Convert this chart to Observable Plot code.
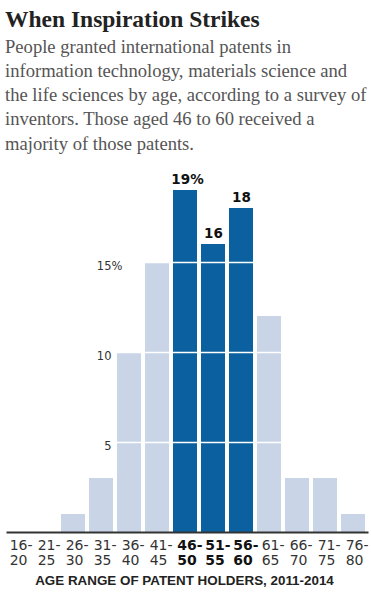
<!DOCTYPE html>
<html>
<head>
<meta charset="utf-8">
<script src="https://cdn.jsdelivr.net/npm/d3@7"></script>
<script src="https://cdn.jsdelivr.net/npm/@observablehq/plot@0.6"></script>
<style>
  html, body { margin: 0; padding: 0; background: #fff; }
  #wrap { position: relative; width: 371px; height: 616px; overflow: hidden; }
  #title { position: absolute; left: 5px; top: 4px; font-family: "Liberation Serif", serif; font-weight: bold; font-size: 23.5px; line-height: 30px; color: #222; white-space: nowrap; }
  #sub { position: absolute; left: 5px; top: 34.5px; font-family: "Liberation Serif", serif; font-size: 18.6px; line-height: 24.3px; color: #555; white-space: nowrap; }
  #chart { position: absolute; left: 0; top: 160px; }
  #xtitle { position: absolute; left: 0; width: 369px; top: 573px; text-align: center; font-family: "Liberation Sans", Arial, sans-serif; font-weight: bold; font-size: 13.4px; line-height: 16px; color: #222; }
  svg { overflow: visible; }
</style>
</head>
<body>
<div id="wrap">
  <div id="title">When Inspiration Strikes</div>
  <div id="sub">People granted international patents in<br>information technology, materials science and<br>the life sciences by age, according to a survey of<br>inventors. Those aged 46 to 60 received a<br>majority of those patents.</div>
  <div id="chart"></div>
  <div id="xtitle">AGE RANGE OF PATENT HOLDERS, 2011-2014</div>
</div>
<script>
const ages = ["16-20","21-25","26-30","31-35","36-40","41-45","46-50","51-55","56-60","61-65","66-70","71-75","76-80"];
const shares = [0, 0, 1, 3, 10, 15, 19, 16, 18, 12, 3, 3, 1];
const highlighted = ["46-50","51-55","56-60"];
const valueLabels = ["19%","16","18"];
const yTicks = [5, 10, 15];

const data = ages.map((a, i) => ({age: a, value: shares[i], hi: highlighted.includes(a)}));
const hiData = data.filter(d => d.hi).map((d, i) => ({...d, label: valueLabels[i]}));
const tickAge = "31-35";

const chart = Plot.plot({
  width: 371,
  height: 410,
  marginTop: 12,
  marginBottom: 38,
  marginLeft: 0,
  marginRight: 0,
  style: {fontFamily: "DejaVu Sans, sans-serif", background: "transparent", overflow: "visible"},
  x: {domain: ages, range: [0.5, 370.5], paddingInner: 0.13, paddingOuter: 0.065, axis: null},
  y: {domain: [0, 20], axis: null},
  marks: [
    Plot.barY(data.filter(d => !d.hi), {x: "age", y: "value", fill: "#c9d5e7"}),
    Plot.barY(data.filter(d => d.hi), {x: "age", y: "value", fill: "#0b619f"}),
    Plot.ruleY(yTicks, {stroke: "#fff", strokeWidth: 1.5}),
    Plot.ruleY([0], {stroke: "#333", strokeWidth: 2, insetLeft: 6.5, insetRight: 2.5}),
    Plot.text(yTicks, {x: () => tickAge, y: d => d, text: d => String(d), textAnchor: "end", dx: 10, dy: 3.5, fontSize: 11.5, fill: "#333"}),
    Plot.text([15], {x: () => tickAge, y: d => d, text: () => "%", textAnchor: "start", dx: 10, dy: 3.5, fontSize: 11.5, fill: "#333"}),
    Plot.text(hiData.filter(d => d.label.includes("%")), {x: "age", y: "value", text: "label", dy: -11, dx: 2, lineAnchor: "middle", fontSize: 13.5, fontWeight: "bold", fill: "#111"}),
    Plot.text(hiData.filter(d => !d.label.includes("%")), {x: "age", y: "value", text: "label", dy: -11, dx: 0, lineAnchor: "middle", fontSize: 13.5, fontWeight: "bold", fill: "#111"}),
    Plot.text(data.filter(d => !d.hi), {x: "age", frameAnchor: "bottom", lineAnchor: "middle", text: d => d.age.replace("-", "-\n"), textAnchor: "start", dx: -7.8, dy: 20.5, lineHeight: 1.07, fontSize: 14, fill: "#333"}),
    Plot.text(data.filter(d => d.hi), {x: "age", frameAnchor: "bottom", lineAnchor: "middle", text: d => d.age.replace("-", "-\n"), textAnchor: "start", dx: -8.2, dy: 20.5, lineHeight: 1.07, fontSize: 14, fontWeight: "bold", fill: "#111"})
  ]
});
document.getElementById("chart").appendChild(chart);
</script>
</body>
</html>
